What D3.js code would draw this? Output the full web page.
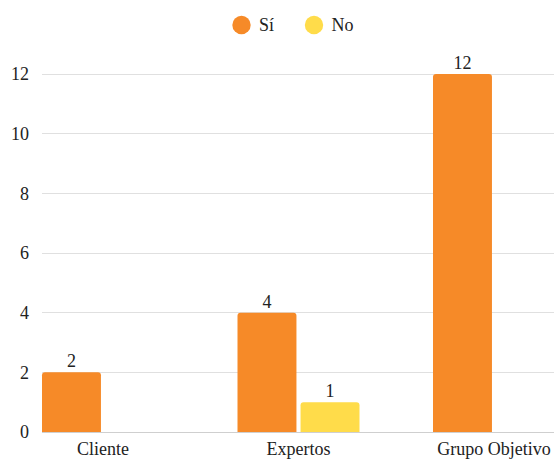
<!DOCTYPE html>
<html>
<head>
<meta charset="utf-8">
<script src="https://cdn.jsdelivr.net/npm/d3@7"></script>
<style>
  html, body { margin: 0; padding: 0; background: #fff; }
  svg { display: block; }
  svg text { font-family: "Liberation Serif", "Times New Roman", "DejaVu Serif", serif !important; }
</style>
</head>
<body>
<svg id="chart" width="554" height="459"></svg>
<script>
// Answer counts per group
const categories = ["Cliente", "Expertos", "Grupo Objetivo"];
const seriesNames = ["Sí", "No"];
const siValues = [2, 4, 12];
const noValues = [0, 1, 0];
const yTicks = [0, 2, 4, 6, 8, 10, 12];
const colors = ["#F68A28", "#FFDC4A"];

const rows = categories.map((c, i) => ({ category: c, values: [siValues[i], noValues[i]] }));

const svg = d3.select("#chart");
const plotLeft = 42, plotRight = 555, plotTop = 74, plotBottom = 432;

const x0 = d3.scaleBand().domain(categories).range([plotLeft, plotRight]).paddingInner(0.376).paddingOuter(0);
const x1 = d3.scaleBand().domain(seriesNames).range([0, x0.bandwidth()]).paddingInner(0.065).paddingOuter(0);
const y = d3.scaleLinear().domain([0, 12]).range([plotBottom, plotTop]);

// Horizontal gridlines
svg.append("g").selectAll("line").data(yTicks).join("line")
  .attr("x1", plotLeft).attr("x2", 554)
  .attr("y1", d => y(d)).attr("y2", d => y(d))
  .attr("stroke", d => d === 0 ? "#cfcfcf" : "#e0e0e0")
  .attr("stroke-width", 1)
  .attr("shape-rendering", "crispEdges");

// Y axis labels
const yAxis = d3.axisLeft(y).tickValues(yTicks).tickSize(0).tickPadding(0);
const yg = svg.append("g").attr("transform", `translate(29,0)`).call(yAxis);
yg.select(".domain").remove();
yg.attr("font-family", null);
yg.selectAll("text").attr("font-size", 18).attr("fill", "#222");

// Bars with rounded top corners
function barPath(x, yTop, w, yBase, r) {
  const h = yBase - yTop;
  r = Math.min(r, h, w / 2);
  return `M${x},${yBase}V${yTop + r}Q${x},${yTop} ${x + r},${yTop}H${x + w - r}Q${x + w},${yTop} ${x + w},${yTop + r}V${yBase}Z`;
}

const groups = svg.append("g").selectAll("g").data(rows).join("g")
  .attr("transform", d => `translate(${x0(d.category)},0)`);

const cells = groups.selectAll("g.cell")
  .data(d => d.values.map((v, i) => ({ key: seriesNames[i], value: v, idx: i })).filter(e => e.value > 0))
  .join("g").attr("class", "cell");

cells.append("path")
  .attr("d", d => barPath(x1(d.key), y(d.value), x1.bandwidth(), y(0), 3))
  .attr("fill", d => colors[d.idx]);

cells.append("text")
  .attr("x", d => x1(d.key) + x1.bandwidth() / 2)
  .attr("y", d => y(d.value) - 5)
  .attr("text-anchor", "middle")
  .attr("font-size", 18)
  .attr("fill", "#222")
  .text(d => d.value);

// Category labels
const xAxis = d3.axisBottom(x0).tickSize(0).tickPadding(0);
const xg = svg.append("g").attr("transform", `translate(0,${plotBottom})`).call(xAxis);
xg.select(".domain").remove();
xg.attr("font-family", null);
xg.selectAll("text").attr("font-size", 18).attr("fill", "#222")
  .attr("dy", null).attr("y", 23);

// Legend
const legendX = [241.5, 314];
const legend = svg.append("g").selectAll("g").data(seriesNames).join("g")
  .attr("transform", (d, i) => `translate(${legendX[i]},25)`);
legend.append("circle").attr("r", 9.2).attr("fill", (d, i) => colors[i]);
legend.append("text").attr("x", 17.5).attr("y", 6.3)
  .attr("font-size", 18).attr("fill", "#222").text(d => d);
</script>
</body>
</html>
